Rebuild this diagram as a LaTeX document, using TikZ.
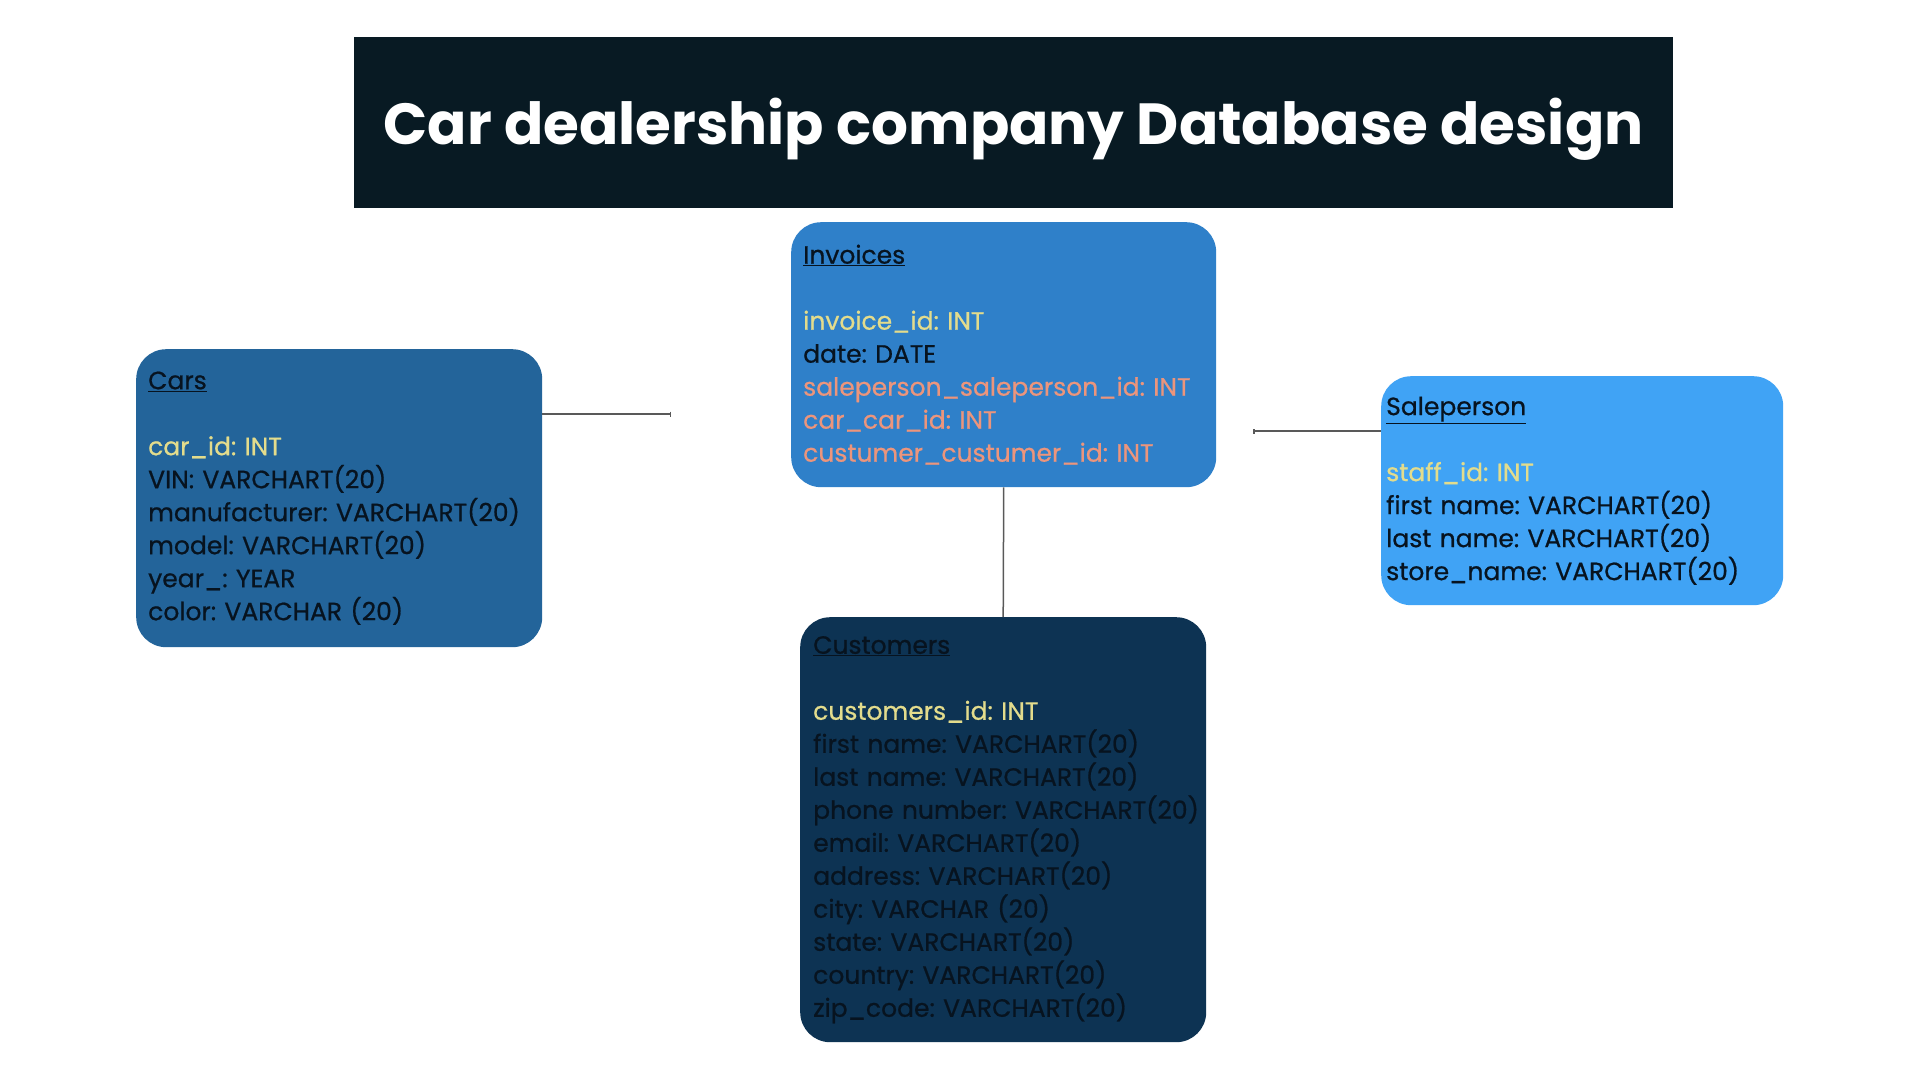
\documentclass[tikz,border=0pt]{standalone}
\usepackage{fontspec}
\setmainfont{Poppins}
\newfontfamily\tablefont{Poppins}[FakeBold=0.7]
\usepackage{xcolor}
\usepackage{tikz}
\usetikzlibrary{arrows.meta}

\definecolor{titlebg}{HTML}{081A23}
\definecolor{invblue}{HTML}{2F80C9}
\definecolor{carblue}{HTML}{23649A}
\definecolor{saleblue}{HTML}{40A3F5}
\definecolor{custblue}{HTML}{0D3353}
\definecolor{pkyellow}{HTML}{E3DC8C}
\definecolor{fksalmon}{HTML}{EC957C}
\definecolor{inkdark}{HTML}{07131F}

\tikzstyle{table} = [rounded corners=30pt, anchor=north west, align=left, text=inkdark, inner ysep=0pt, font=\tablefont\fontsize{25}{33}\selectfont\frenchspacing]
\tikzstyle{link} = [draw=black!65, line width=1.5pt]

\newcommand{\pk}[1]{\textcolor{pkyellow}{#1}}
\newcommand{\fk}[1]{\textcolor{fksalmon}{#1}}

\begin{document}
\begin{tikzpicture}[x=1pt,y=-1pt]
	% Page: 1920 x 1080, y runs down
	\fill[white] (0,0) rectangle (1920,1080);
	\useasboundingbox (0,0) rectangle (1920,1080);

	% Title banner
	\node [fill=titlebg, text=white, minimum width=1319pt, minimum height=171pt, text height=56pt, text depth=13pt, inner ysep=0pt, font=\fontsize{58}{60}\selectfont\bfseries] (title) at (1013.5,122.5) {Car dealership company Database design};

	% Tables:
	% Each one is a single node, the key lines are coloured with \pk and \fk
	\node [table, fill=invblue, inner xsep=12pt, text width=401pt, minimum height=265pt] (inv) at (791,222) {%
		\underline{Invoices}\\[33pt]
		\pk{invoice\_id: INT}\\
		date: DATE\\
		\fk{saleperson\_saleperson\_id: INT}\\
		\fk{car\_car\_id: INT}\\
		\fk{custumer\_custumer\_id: INT}};

	\node [table, fill=carblue, inner xsep=12pt, text width=382pt, minimum height=298pt] (cars) at (136,349) {%
		\underline{Cars}\\[33pt]
		\pk{car\_id: INT}\\
		VIN: VARCHART(20)\\
		manufacturer: VARCHART(20)\\
		model: VARCHART(20)\\
		year\_: YEAR\\
		color: VARCHAR (20)};

	\node [table, fill=saleblue, inner xsep=5pt, text width=392pt, minimum height=229pt] (sale) at (1381,376) {%
		\underline{Saleperson}\\[33pt]
		\pk{staff\_id: INT}\\
		first name: VARCHART(20)\\
		last name: VARCHART(20)\\
		store\_name: VARCHART(20)};

	% the phone line runs up to the right edge, so it may not break
	\node [table, fill=custblue, inner xsep=13pt, text width=380pt, minimum height=425pt] (cust) at (800,617) {%
		\underline{Customers}\\[33pt]
		\pk{customers\_id: INT}\\
		first name: VARCHART(20)\\
		last name: VARCHART(20)\\
		\makebox[0pt][l]{phone number: VARCHART(20)}\\
		email: VARCHART(20)\\
		address: VARCHART(20)\\
		city: VARCHAR (20)\\
		state: VARCHART(20)\\
		country: VARCHART(20)\\
		zip\_code: VARCHART(20)};

	% Connectors:
	% Two of them end in the open, on a named coordinate
	\coordinate (carsend) at (671,414);
	\coordinate (saleend) at (1253,431);
	\draw [link, -{Bar[width=5pt]}] (cars.east |- carsend) -- (carsend);
	\draw [link, {Bar[width=5pt]}-] (saleend) -- (sale.west |- saleend);
	\draw [link] (inv.south) -- (cust.north);
\end{tikzpicture}
\end{document}
